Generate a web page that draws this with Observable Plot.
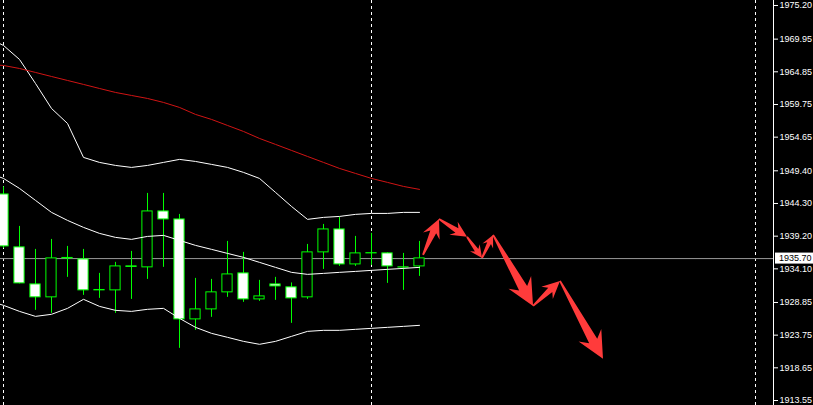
<!DOCTYPE html>
<html><head><meta charset="utf-8">
<script src="https://cdn.jsdelivr.net/npm/d3@7"></script>
<script src="https://cdn.jsdelivr.net/npm/@observablehq/plot@0.6"></script>
<style>
html,body{margin:0;padding:0;background:#000;}
#chart{width:813px;height:405px;overflow:hidden;}
</style></head><body><div id="chart"></div>
<script>
// ---- data ----
const barIndex = [0,1,2,3,4,5,6,7,8,9,10,11,12,13,14,15,16,17,18,19,20,21,22,23,24,25,26];
const opens  = [1945.71,1937.45,1931.67,1929.65,1935.80,1935.57,1930.74,1930.74,1934.48,1934.33,1943.06,1941.81,1926.21,1927.77,1930.43,1933.39,1929.33,1931.67,1931.21,1929.65,1936.67,1940.25,1934.79,1936.51,1936.51,1934.33,1934.48];
const highs  = [1946.90,1940.72,1937.13,1938.69,1937.60,1937.13,1933.39,1935.11,1936.82,1945.87,1945.87,1942.59,1932.61,1932.45,1938.38,1936.67,1932.30,1932.77,1931.90,1937.91,1941.03,1942.13,1939.16,1939.63,1936.60,1936.51,1938.38];
const lows   = [1937.30,1931.75,1927.62,1927.15,1932.77,1929.96,1929.49,1927.15,1929.33,1932.45,1934.33,1921.69,1924.50,1926.53,1929.65,1928.87,1929.02,1929.18,1925.59,1929.33,1934.01,1934.48,1934.48,1934.64,1931.83,1930.74,1932.92];
const closes = [1937.60,1931.83,1929.65,1935.73,1935.73,1930.74,1930.80,1934.48,1934.40,1943.06,1941.81,1926.21,1927.77,1930.43,1933.23,1929.33,1929.80,1931.36,1929.49,1936.67,1940.25,1934.79,1936.51,1936.55,1934.48,1934.30,1935.73];

const lineIndex = [-1,0,1,2,3,4,5,6,7,8,9,10,11,12,13,14,15,16,17,18,19,20,21,22,23,24,25,26];
const bbUpper  = [1970.21,1968.96,1966.78,1963.03,1959.13,1956.79,1951.49,1950.71,1950.24,1949.93,1950.24,1950.71,1951.18,1950.86,1950.40,1949.93,1949.15,1948.21,1946.03,1943.84,1941.82,1942.13,1942.28,1942.60,1942.75,1942.75,1942.91,1942.91];
const bbMiddle = [1949.15,1948.21,1946.65,1944.78,1942.91,1941.66,1940.57,1939.63,1939.01,1938.70,1939.16,1939.32,1938.54,1937.76,1937.14,1936.51,1935.89,1935.11,1934.33,1933.55,1933.24,1933.39,1933.55,1933.70,1933.86,1934.02,1934.17,1934.33];
const bbLower  = [1929.18,1928.40,1927.46,1926.68,1927.00,1927.93,1929.34,1928.24,1927.62,1927.46,1927.78,1927.93,1926.37,1924.97,1924.03,1923.41,1922.78,1922.32,1922.78,1923.56,1924.34,1924.50,1924.50,1924.66,1924.81,1924.97,1925.12,1925.28];
const maRed    = [1966.00,1965.84,1965.37,1964.75,1964.12,1963.50,1962.88,1962.25,1961.63,1961.16,1960.69,1960.07,1959.29,1958.20,1957.42,1956.48,1955.54,1954.45,1953.52,1952.58,1951.64,1950.71,1949.77,1948.99,1948.21,1947.59,1946.96,1946.50];

const separatorBars = [0, 23, 47];
const bidPrice = 1935.70;
const tickValues = [1975.20,1969.95,1964.85,1959.75,1954.65,1949.40,1944.30,1939.20,1934.10,1928.85,1923.75,1918.65,1913.55];

const forecastIndex = [26.25, 27.25, 29.00, 29.94, 30.63, 33.13, 34.81, 37.50];
const forecastPrice = [1936.20, 1941.81, 1939.01, 1935.73, 1939.32, 1928.24, 1932.14, 1919.98];

// ---- tables ----
const candles = barIndex.map((i, k) => ({i, open: opens[k], high: highs[k], low: lows[k], close: closes[k]}));
const bear = candles.filter(d => d.close < d.open);
const bull = candles.filter(d => d.close >= d.open);
const mkLine = arr => lineIndex.map((i, k) => ({i, v: arr[k]}));

const GREEN = "#00ff00";

function arrowsMark(index, scales) {
  const g = d3.create("svg:g");
  for (let k = 0; k < forecastIndex.length - 1; k++) {
    const x0 = scales.x(forecastIndex[k]), y0 = scales.y(forecastPrice[k]);
    const x1 = scales.x(forecastIndex[k + 1]), y1 = scales.y(forecastPrice[k + 1]);
    const dx = x1 - x0, dy = y1 - y0, L = Math.hypot(dx, dy);
    const ux = dx / L, uy = dy / L, nx = -uy, ny = ux;
    const hl = Math.min(27, 0.48 * L), hw = hl * 0.48, sw = hl * 0.17, tw = 0.9;
    const nkx = x1 - ux * hl * 0.75, nky = y1 - uy * hl * 0.75;
    const bx = x1 - ux * hl, by = y1 - uy * hl;
    const pts = [
      [x0 + nx * tw, y0 + ny * tw],
      [nkx + nx * sw, nky + ny * sw],
      [bx + nx * hw, by + ny * hw],
      [x1, y1],
      [bx - nx * hw, by - ny * hw],
      [nkx - nx * sw, nky - ny * sw],
      [x0 - nx * tw, y0 - ny * tw]
    ];
    g.append("polygon").attr("points", pts.map(p => p.join(",")).join(" ")).attr("fill", "#ff3b3b");
  }
  return g.node();
}

function bidLabelMark(index, scales, values, dims) {
  const g = d3.create("svg:g");
  const y = scales.y(bidPrice);
  const x0 = dims.width - dims.marginRight + 2;
  g.append("rect").attr("x", x0).attr("y", y - 5.5).attr("width", dims.width - x0).attr("height", 11).attr("fill", "#fff");
  g.append("text").attr("x", x0 + 4).attr("y", y).attr("dy", "0.34em").attr("fill", "#000")
    .attr("text-anchor", "start")
    .attr("font-family", "Liberation Sans").attr("font-size", 9).text(bidPrice.toFixed(2));
  return g.node();
}

const chart = Plot.plot({
  width: 813, height: 405,
  marginLeft: 0, marginRight: 40, marginTop: 0, marginBottom: 0,
  style: {background: "#000", color: "#fff", fontFamily: "Liberation Sans", fontSize: "9px", overflow: "hidden"},
  x: {domain: [-0.1875, 48.125], axis: null},
  y: {domain: [1912.77, 1975.98], axis: "right", ticks: tickValues, tickFormat: d => d.toFixed(2), tickSize: 4, tickPadding: 2, line: true, label: null},
  marks: [
    Plot.ruleX(separatorBars, {stroke: "#fff", strokeDasharray: "3,3"}),
    Plot.ruleY([bidPrice], {stroke: "#9a9a9a"}),
    Plot.ruleX(candles, {x: "i", y1: "low", y2: "high", stroke: GREEN}),
    Plot.rect(bear, {x1: d => d.i - 0.32, x2: d => d.i + 0.32, y1: "open", y2: "close", fill: "#fff", stroke: GREEN}),
    Plot.rect(bull, {x1: d => d.i - 0.32, x2: d => d.i + 0.32, y1: "open", y2: "close", fill: "#000", stroke: GREEN}),
    Plot.line(mkLine(bbUpper), {x: "i", y: "v", stroke: "#fff", strokeWidth: 1}),
    Plot.line(mkLine(bbMiddle), {x: "i", y: "v", stroke: "#fff", strokeWidth: 1}),
    Plot.line(mkLine(bbLower), {x: "i", y: "v", stroke: "#fff", strokeWidth: 1}),
    Plot.line(mkLine(maRed), {x: "i", y: "v", stroke: "#d01414", strokeWidth: 1}),
    arrowsMark,
    bidLabelMark
  ]
});
document.getElementById("chart").appendChild(chart);
</script>
</body></html>
